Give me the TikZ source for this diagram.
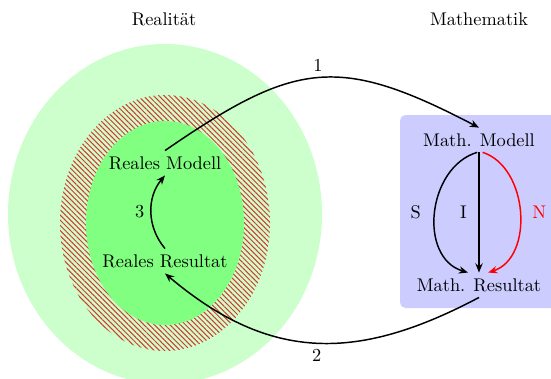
\documentclass[tikz,border=0pt]{standalone}
\usetikzlibrary{arrows.meta,patterns.meta}
\definecolor{outergreen}{RGB}{204,255,204}
\definecolor{innergreen}{RGB}{128,255,128}
\definecolor{boxblue}{RGB}{204,204,255}
\definecolor{hatchred}{RGB}{215,55,45}
\tikzset{
  lbl/.style={inner sep=3pt},
  arr/.style={thick,-{Stealth[length=5pt,width=4pt]}},
}
\begin{document}
\begin{tikzpicture}[x=0.545pt,y=-0.545pt]
\useasboundingbox (0,0) rectangle (551,378);
\clip (0,0) rectangle (551,378);
% regions
\fill[outergreen] (165,214) ellipse [x radius=157, y radius=170];
\fill[pattern={Lines[angle=-45,distance=2pt,line width=0.55pt]},pattern color=hatchred] (165,223) ellipse [x radius=105, y radius=128];
\fill[innergreen] (165,223) ellipse [x radius=79, y radius=102];
\fill[boxblue,rounded corners=3pt] (400,115) rectangle (570,308);
% titles
\node[lbl] (real) at (164,19) {Realität};
\node[lbl] (math) at (479,19) {Mathematik};
% nodes
\node[lbl] (rm) at (165,163) {Reales Modell};
\node[lbl] (rr) at (165,261) {Reales Resultat};
\node[lbl] (mm) at (479,140) {Math. Modell};
\node[lbl] (mr) at (479,285) {Math. Resultat};
% connectors
\draw[arr] (rm.north) .. controls (295,61) and (338,54) .. node[above,pos=0.5] {1} (mm.north);
\draw[arr] (mr.south) .. controls (359,361) and (271,363) .. node[below,pos=0.5] {2} (rr.south);
\draw[arr] (rr.north) to[bend left=40] node[left] {3} (rm.south);
\draw[arr] ([xshift=-1]mm.south) .. controls +(-50,15) and +(-50,-15) .. node[left,pos=0.5,xshift=-4pt] {S} ([xshift=-6]mr.north);
\draw[arr] (mm.south) -- node[left,xshift=-3pt] {I} (mr.north);
\draw[arr,red] ([xshift=2]mm.south) .. controls +(46,15) and +(46,-15) .. node[right,pos=0.5,xshift=3pt] {N} ([xshift=5]mr.north);
\end{tikzpicture}
\end{document}
